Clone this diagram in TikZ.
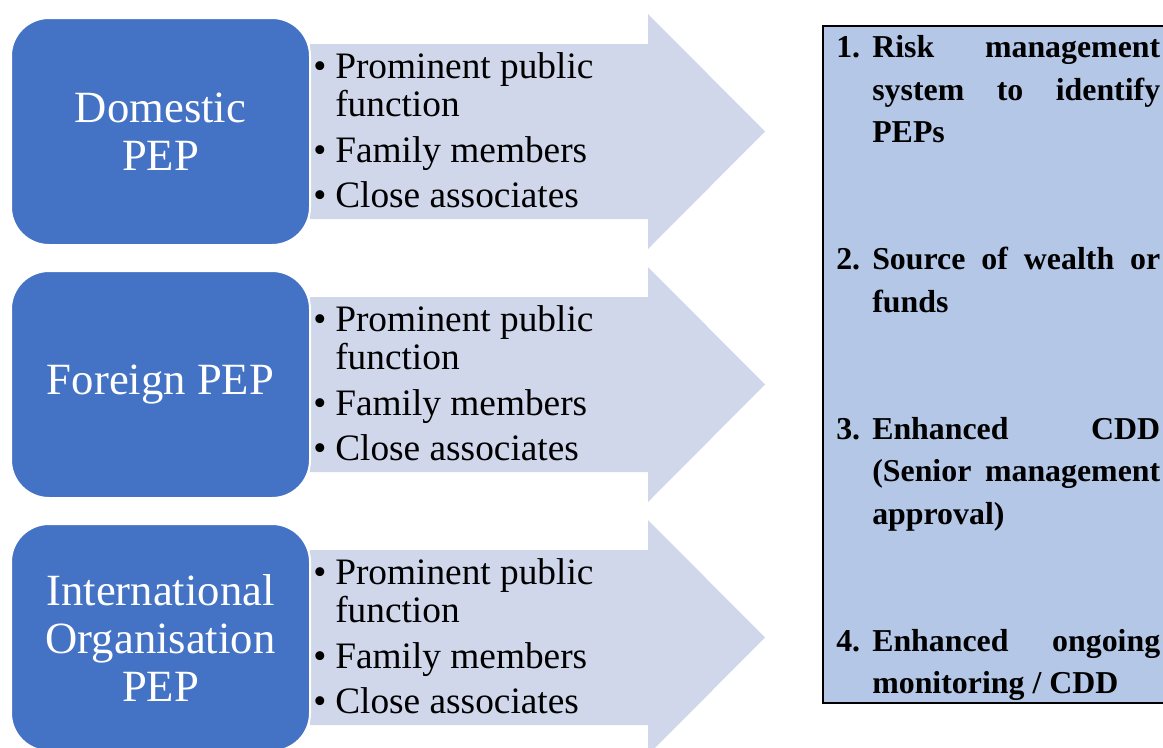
\documentclass[tikz,border=0pt]{standalone}
\usepackage{fontspec}
\setmainfont{Liberation Serif}
\usepackage{tikz}
\hyphenpenalty=10000
\exhyphenpenalty=10000
\tolerance=10000

\definecolor{pepblue}{HTML}{4472C4}
\definecolor{arrowgrey}{HTML}{D0D7EB}
\definecolor{panelblue}{HTML}{B4C7E7}

\tikzset{
  pepbox/.style={draw=white, line width=1.5pt, fill=pepblue, rounded corners=28.5pt,
    minimum width=224.25pt, minimum height=170.25pt, inner sep=0pt, align=center,
    text=white, font=\fontsize{33.5}{36}\selectfont},
  blockarrow/.style={fill=arrowgrey, draw=none},
  bullets/.style={anchor=north west, inner sep=0pt, align=left,
    font=\fontsize{28}{28.9}\selectfont},
  panelbox/.style={draw=black, line width=1.75pt, fill=panelblue, inner sep=0pt,
    minimum width=258.75pt, minimum height=507.75pt},
  measures/.style={anchor=north west, inner sep=0pt, text width=243pt, align=justify,
    font=\bfseries\fontsize{23.9}{31.8}\selectfont}
}
\newcommand{\bul}{\makebox[16.5pt][l]{\textbullet}}
\newcommand{\ind}{\hspace*{16.5pt}}
\newcommand{\num}[1]{\hangindent=27pt\hangafter=1\makebox[27pt][l]{#1}}

\begin{document}
\begin{tikzpicture}[x=0.75pt,y=0.75pt,yscale=-1,xscale=1]
\useasboundingbox (0,0) rectangle (1163,747);

%Shape: Right Arrow [id:arrow1]
\draw [blockarrow] (310,44) -- (648,44) -- (648,14) -- (765,131.5) -- (648,249) -- (648,219) -- (310,219) -- cycle ;
%Shape: Right Arrow [id:arrow2]
\draw [blockarrow] (310,297) -- (648,297) -- (648,267) -- (765,384.5) -- (648,502) -- (648,472) -- (310,472) -- cycle ;
%Shape: Right Arrow [id:arrow3]
\draw [blockarrow] (310,550) -- (648,550) -- (648,520) -- (765,637.5) -- (648,755) -- (648,725) -- (310,725) -- cycle ;

%Shape: Rounded Rect [id:domestic]
\node (domestic) [pepbox] at (160.5,131.5) {Domestic\\PEP};
%Shape: Rounded Rect [id:foreign]
\node (foreign) [pepbox] at (160.5,384.5) {Foreign PEP};
%Shape: Rounded Rect [id:intorg]
\node (intorg) [pepbox] at (160.5,637.5) {International\\Organisation\\PEP};

% Text Node
\node (domlist) [bullets] at (313,52) {\bul Prominent public\\ \ind function\\[5.2pt] \bul Family members\\[5.2pt] \bul Close associates};
% Text Node
\node (forlist) [bullets] at (313,305) {\bul Prominent public\\ \ind function\\[5.2pt] \bul Family members\\[5.2pt] \bul Close associates};
% Text Node
\node (intlist) [bullets] at (313,558) {\bul Prominent public\\ \ind function\\[5.2pt] \bul Family members\\[5.2pt] \bul Close associates};

%Shape: Rectangle [id:panel]
\node (panel) [panelbox] at (995.5,364.5) {};
% Text Node
\node (measurelist) [measures] at (836,35.5) {%
\num{1.}Risk management system to identify PEPs\par\vspace{63.6pt}
\num{2.}Source of wealth or funds\par\vspace{63.6pt}
\num{3.}Enhanced CDD (Senior management approval)\par\vspace{63.6pt}
\num{4.}Enhanced ongoing monitoring / CDD\par};

\end{tikzpicture}
\end{document}
